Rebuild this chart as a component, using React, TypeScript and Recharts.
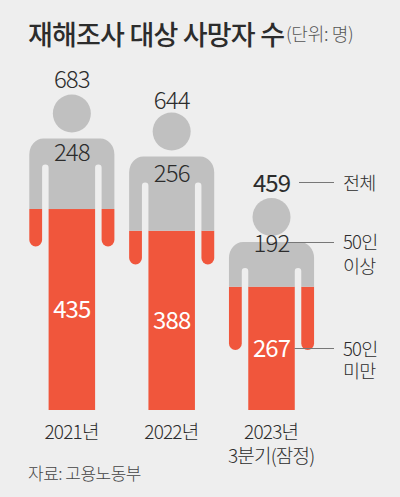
import React from "react";
import { BarChart, Bar, XAxis, YAxis, LabelList } from "recharts";

const categories = ["2021년", "2022년", "2023년\n3분기(잠정)"];
const under50 = [435, 388, 267];
const over50 = [248, 256, 192];
const totals = [683, 644, 459];

const rows = categories.map((name, i) => ({
  name,
  under50: under50[i],
  over50: over50[i],
  total: totals[i],
}));

const FONT = '"Noto Sans CJK KR", "Noto Sans", sans-serif';
const BG = "#eeeeee";
const GREY = "#c0c0c0";
const RED = "#f0563c";
const INK = "#2c2c2c";

// figure layout, relative to the top of the head
const HEAD_R = 19;
const SHOULDER = 44;
const ARM_GAP = 6.5;
const ARM_W = 12.8;
const GAP_TOP = 70;
const ARM_END = 152;
const CORNER_X = 14;
const CORNER_Y = 16;
const NUM_SIZE = 24;
const NUM_SPACING = -0.9;
const overLabelDy = [58, 60.5, 45];
const totalLabelDy = [-15, -12.5, -15];
const totalWeights = [300, 300, 400];

function GreyShape(p: any) {
  const { x, y, width, height } = p;
  const T = y;
  const B = y + height;
  const cx = x + width / 2;
  const L = x - ARM_GAP - ARM_W;
  const R = x + width + ARM_GAP + ARM_W;
  const S = T + SHOULDER;
  const gr = ARM_GAP / 2;
  const gt = T + GAP_TOP;
  const d = [
    `M${L} ${B}`,
    `L${L} ${S + CORNER_Y}`,
    `A${CORNER_X} ${CORNER_Y} 0 0 1 ${L + CORNER_X} ${S}`,
    `L${R - CORNER_X} ${S}`,
    `A${CORNER_X} ${CORNER_Y} 0 0 1 ${R} ${S + CORNER_Y}`,
    `L${R} ${B}`,
    `L${x + width + ARM_GAP} ${B}`,
    `L${x + width + ARM_GAP} ${gt + gr}`,
    `A${gr} ${gr} 0 0 0 ${x + width} ${gt + gr}`,
    `L${x + width} ${B}`,
    `L${x} ${B}`,
    `L${x} ${gt + gr}`,
    `A${gr} ${gr} 0 0 0 ${x - ARM_GAP} ${gt + gr}`,
    `L${x - ARM_GAP} ${B}`,
    "Z",
  ].join(" ");
  return (
    <g>
      <circle cx={cx} cy={T + HEAD_R} r={HEAD_R} fill={GREY} />
      <path d={d} fill={GREY} />
    </g>
  );
}

function RedShape(p: any) {
  const { x, y, width, height, payload } = p;
  const perUnit = height / payload.under50;
  const T = y - payload.over50 * perUnit;
  const end = T + ARM_END;
  const r = ARM_W / 2;
  const arm = (ax: number) =>
    `M${ax} ${y} L${ax + ARM_W} ${y} L${ax + ARM_W} ${end - r} A${r} ${r} 0 0 1 ${ax} ${end - r} Z`;
  return (
    <g>
      <rect x={x} y={y} width={width} height={height} fill={RED} />
      <path d={arm(x - ARM_GAP - ARM_W)} fill={RED} />
      <path d={arm(x + width + ARM_GAP)} fill={RED} />
    </g>
  );
}

function OverLabel(p: any) {
  const { x, y, width, value, index } = p;
  return (
    <text x={x + width / 2} y={y + overLabelDy[index]} dy="0.36em" textAnchor="middle"
      fontFamily={FONT} fontSize={NUM_SIZE} fontWeight={300} letterSpacing={NUM_SPACING} fill={INK}>
      {value}
    </text>
  );
}

function TotalLabel(p: any) {
  const { x, y, width, value, index } = p;
  return (
    <text x={x + width / 2} y={y + totalLabelDy[index]} dy="0.36em" textAnchor="middle"
      fontFamily={FONT} fontSize={NUM_SIZE} fontWeight={totalWeights[index]} letterSpacing={NUM_SPACING} fill={INK}>
      {value}
    </text>
  );
}

function RedLabel(p: any) {
  const { x, y, width, height, value } = p;
  return (
    <text x={x + width / 2} y={y + height / 2} dy="0.36em" textAnchor="middle"
      fontFamily={FONT} fontSize={NUM_SIZE} fontWeight={400} letterSpacing={NUM_SPACING} fill="#ffffff">
      {value}
    </text>
  );
}

function CategoryTick(p: any) {
  const { x, y, payload } = p;
  const lines = String(payload.value).split("\n");
  return (
    <text x={x} textAnchor="middle" fontFamily={FONT} fontSize={19} fontWeight={300} letterSpacing={-0.8} fill={INK}>
      {lines.map((l, i) => (
        <tspan key={l} x={x} y={y + 14.5 + i * 24} dy="0.36em">{l}</tspan>
      ))}
    </text>
  );
}

function Notes() {
  const t = { fontFamily: FONT, fontSize: 18.5, fontWeight: 300, fill: INK, letterSpacing: -0.8 } as const;
  const line = { stroke: "#777777", strokeWidth: 1 } as const;
  return (
    <svg width={400} height={497} style={{ position: "absolute", left: 0, top: 0 }}>
      <line x1={299} x2={334} y1={182.5} y2={182.5} {...line} />
      <line x1={288} x2={334} y1={242.5} y2={242.5} {...line} />
      <line x1={294.5} x2={334} y1={348.5} y2={348.5} {...line} />
      <text x={343} y={183} dy="0.36em" {...t}>전체</text>
      <text x={343} y={242} dy="0.36em" {...t}>50인</text>
      <text x={343} y={266} dy="0.36em" {...t}>이상</text>
      <text x={343} y={349} dy="0.36em" {...t}>50인</text>
      <text x={343} y={371} dy="0.36em" {...t}>미만</text>
      <text x={28} y={35} dy="0.36em" fontFamily={FONT} fontSize={27} fontWeight={500} letterSpacing={-0.8} fill={INK}>
        재해조사 대상 사망자 수
      </text>
      <text x={286} y={35} dy="0.36em" fontFamily={FONT} fontSize={18} fontWeight={300} letterSpacing={-0.3} fill="#555555">
        (단위: 명)
      </text>
      <text x={28} y={474} dy="0.36em" fontFamily={FONT} fontSize={17} fontWeight={300} letterSpacing={-0.5} fill="#444444">
        자료: 고용노동부
      </text>
    </svg>
  );
}

export default function App() {
  return (
    <div style={{ position: "absolute", left: 0, top: 0, width: 400, height: 497, background: BG, overflow: "hidden" }}>
      <BarChart
        width={400}
        height={497}
        data={rows}
        barSize={46.5}
        margin={{ top: 12, right: 78.9, bottom: 0, left: 21.6 }}
      >
        <XAxis dataKey="name" height={87} axisLine={false} tickLine={false} tick={<CategoryTick />} interval={0} />
        <YAxis hide domain={[0, 861.5]} />
        <Bar dataKey="under50" stackId="a" isAnimationActive={false} shape={<RedShape />}>
          <LabelList dataKey="under50" content={<RedLabel />} />
        </Bar>
        <Bar dataKey="over50" stackId="a" isAnimationActive={false} shape={<GreyShape />}>
          <LabelList dataKey="over50" content={<OverLabel />} />
          <LabelList dataKey="total" content={<TotalLabel />} />
        </Bar>
      </BarChart>
      <Notes />
    </div>
  );
}
